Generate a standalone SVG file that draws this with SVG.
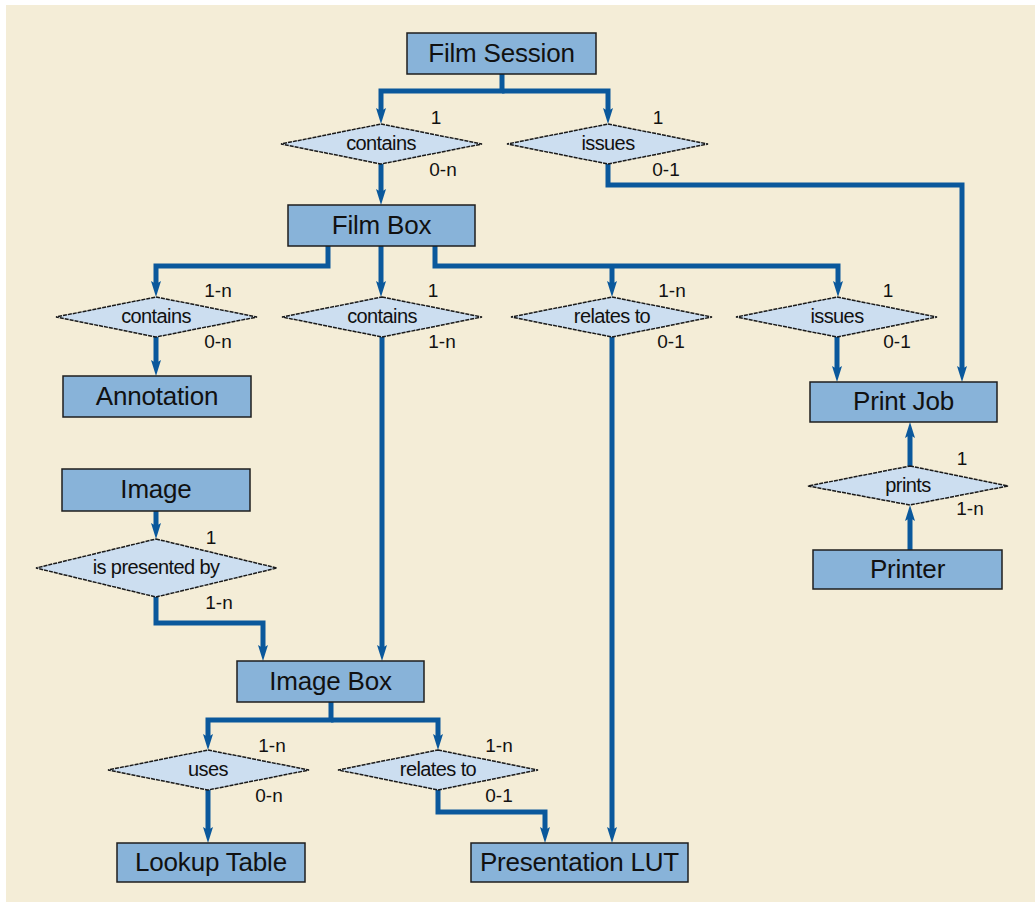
<svg xmlns="http://www.w3.org/2000/svg" width="1035" height="902" viewBox="0 0 1035 902">
  <style>
    .bg { fill: #F4EDD7; }
    .ent rect { fill: #88B3D9; stroke: #1E1E1E; stroke-width: 1.5; }
    .ent text { font-family: "Liberation Sans", Arial, sans-serif; font-size: 26px; fill: #111; text-anchor: middle; letter-spacing: -0.2px; }
    .rel polygon { fill: #CCDEF0; stroke: #1A1A1A; stroke-width: 1.5; stroke-dasharray: 4 1; }
    .rel text { font-family: "Liberation Sans", Arial, sans-serif; font-size: 20px; fill: #111; text-anchor: middle; letter-spacing: -0.6px; }
    .rel text.card { font-size: 19px; letter-spacing: 0; }
    #connectors path { fill: none; stroke: #0A589C; stroke-width: 5; stroke-linejoin: miter; }
    #connectors path.arr { marker-end: url(#ah); }
  </style>
  <defs>
    <marker id="ah" viewBox="0 0 16 10" markerWidth="16" markerHeight="10" refX="6" refY="5" markerUnits="userSpaceOnUse" orient="auto">
      <path d="M0,0 L16,5 L0,10 L3,5 z" fill="#0A589C"/>
    </marker>
  </defs>

  <rect class="bg" x="6" y="5" width="1029" height="897"/>

  <!-- connectors -->
  <g id="connectors">
    <path class="arr" d="M502,74 V91 H381 V114"/>
    <path class="arr" d="M502,91 H608 V114"/>
    <path class="arr" d="M381,164 V195"/>
    <path class="arr" d="M608,164 V185 H962 V372"/>
    <path class="arr" d="M328,246 V266 H156 V287"/>
    <path class="arr" d="M381,246 V287"/>
    <path class="arr" d="M435,246 V266 H838 V287"/>
    <path class="arr" d="M612,266 V287"/>
    <path class="arr" d="M156,337 V366"/>
    <path class="arr" d="M382,337 V651"/>
    <path class="arr" d="M612,337 V833"/>
    <path class="arr" d="M837,337 V372"/>
    <path class="arr" d="M910,466 V432"/>
    <path class="arr" d="M910,550 V515"/>
    <path class="arr" d="M156,511 V529"/>
    <path class="arr" d="M156,597 V623 H263 V651"/>
    <path class="arr" d="M331,702 V720 H208 V740"/>
    <path class="arr" d="M331,720 H438 V740"/>
    <path class="arr" d="M208,790 V833"/>
    <path class="arr" d="M438,790 V812 H545 V833"/>
  </g>

  <!-- entities -->
  <g id="film-session" class="ent"><rect x="407" y="33" width="189" height="41"/><text x="501.5" y="62">Film Session</text></g>
  <g id="film-box" class="ent"><rect x="288" y="205" width="187" height="41"/><text x="381.5" y="234">Film Box</text></g>
  <g id="annotation" class="ent"><rect x="63" y="376" width="188" height="41"/><text x="157" y="405">Annotation</text></g>
  <g id="print-job" class="ent"><rect x="810" y="382" width="187" height="40"/><text x="903.5" y="410">Print Job</text></g>
  <g id="image" class="ent"><rect x="62" y="469" width="188" height="42"/><text x="156" y="498">Image</text></g>
  <g id="printer" class="ent"><rect x="813" y="550" width="189" height="39"/><text x="907.5" y="578">Printer</text></g>
  <g id="image-box" class="ent"><rect x="237" y="661" width="187" height="41"/><text x="330.5" y="690">Image Box</text></g>
  <g id="lookup-table" class="ent"><rect x="117" y="843" width="188" height="39"/><text x="211" y="871">Lookup Table</text></g>
  <g id="presentation-lut" class="ent"><rect x="471" y="843" width="217" height="39"/><text x="579.5" y="871">Presentation LUT</text></g>

  <!-- relationships -->
  <g id="rel-session-contains" class="rel">
    <polygon points="381,124 482,144 381,164 281,144"/><text x="381" y="150">contains</text>
    <text class="card" x="436" y="124">1</text><text class="card" x="443" y="176">0-n</text>
  </g>
  <g id="rel-session-issues" class="rel">
    <polygon points="608,124 708,144 608,164 507,144"/><text x="608" y="150">issues</text>
    <text class="card" x="658" y="124">1</text><text class="card" x="666" y="176">0-1</text>
  </g>
  <g id="rel-box-contains-annotation" class="rel">
    <polygon points="156,297 257,317 156,337 56,317"/><text x="156" y="323">contains</text>
    <text class="card" x="218" y="297">1-n</text><text class="card" x="218" y="348">0-n</text>
  </g>
  <g id="rel-box-contains-image" class="rel">
    <polygon points="382,297 482,317 382,337 282,317"/><text x="382" y="323">contains</text>
    <text class="card" x="433" y="297">1</text><text class="card" x="442" y="348">1-n</text>
  </g>
  <g id="rel-box-relates" class="rel">
    <polygon points="612,297 712,317 612,337 511,317"/><text x="612" y="323">relates to</text>
    <text class="card" x="672" y="297">1-n</text><text class="card" x="671" y="348">0-1</text>
  </g>
  <g id="rel-box-issues" class="rel">
    <polygon points="837,297 937,317 837,337 736,317"/><text x="837" y="323">issues</text>
    <text class="card" x="888" y="297">1</text><text class="card" x="897" y="348">0-1</text>
  </g>
  <g id="rel-prints" class="rel">
    <polygon points="910,466 1008,486 910,505 808,486"/><text x="908" y="492">prints</text>
    <text class="card" x="962" y="465">1</text><text class="card" x="970" y="515">1-n</text>
  </g>
  <g id="rel-presented" class="rel">
    <polygon points="156,539 277,568 156,597 36,568"/><text x="156" y="574">is presented by</text>
    <text class="card" x="211" y="544">1</text><text class="card" x="219" y="609">1-n</text>
  </g>
  <g id="rel-uses" class="rel">
    <polygon points="208,750 309,770 208,790 108,770"/><text x="208" y="776">uses</text>
    <text class="card" x="272" y="752">1-n</text><text class="card" x="269" y="802">0-n</text>
  </g>
  <g id="rel-imagebox-relates" class="rel">
    <polygon points="438,750 538,770 438,790 338,770"/><text x="438" y="776">relates to</text>
    <text class="card" x="499" y="752">1-n</text><text class="card" x="499" y="802">0-1</text>
  </g>
</svg>
